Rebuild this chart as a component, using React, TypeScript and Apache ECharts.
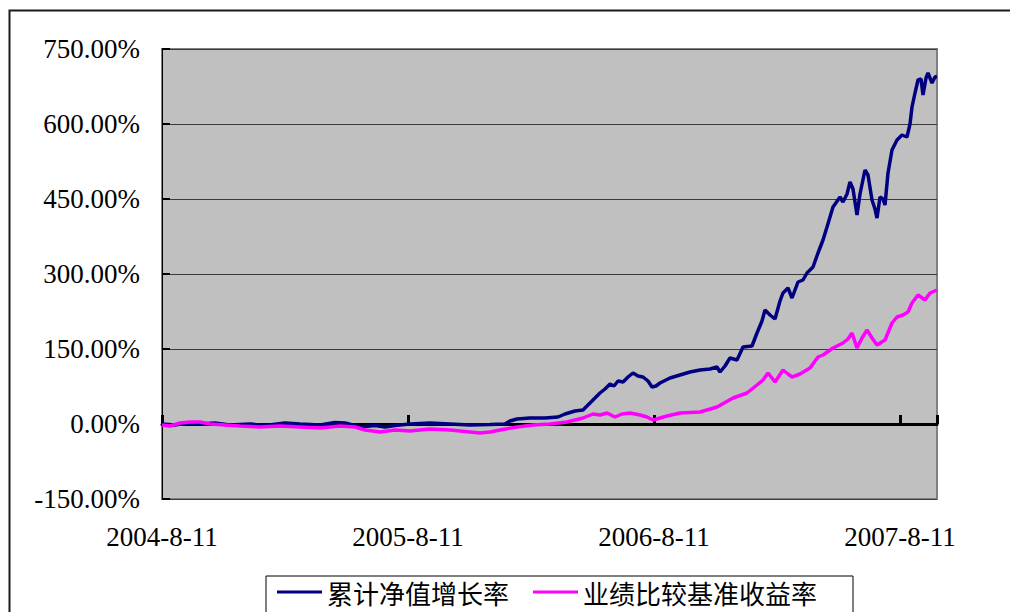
import React, { useEffect, useRef } from "react";
import * as echarts from "echarts";

const tickLabels = ["2004-8-11", "2005-8-11", "2006-8-11", "2007-8-11"];
const daysPerTick = 246;
const totalDays = 775;

const seriesNames = ["累计净值增长率", "业绩比较基准收益率"];

const navDays = [0, 13, 23, 38, 53, 68, 88, 103, 123, 138, 158, 173, 183, 198, 213, 223, 233, 248, 268, 288, 308, 328, 343, 348, 355, 368, 383, 396, 403, 413, 421, 428, 438, 443, 448, 452, 456, 461, 466, 471, 476, 481, 486, 490, 494, 498, 508, 518, 528, 538, 548, 555, 558, 563, 568, 575, 581, 590, 595, 600, 603, 608, 613, 618, 621, 626, 630, 636, 641, 645, 651, 656, 661, 665, 671, 678, 681, 685, 688, 691, 695, 698, 703, 706, 710, 713, 715, 718, 721, 723, 726, 730, 735, 740, 745, 748, 750, 753, 756, 759, 761, 764, 766, 770, 773, 775];
const navValues = [0, -2, 2, 0, 2, -2, 0, -3, 2, 0, -2, 3, 2, -6, -3, -6, -3, 0, 2, 0, -2, -1, 0, 6, 10, 12, 12, 14, 20, 26, 28, 42, 62, 70, 80, 76, 86, 84, 94, 102, 96, 94, 86, 74, 76, 82, 92, 98, 104, 108, 110, 114, 104, 116, 132, 128, 154, 156, 182, 206, 228, 218, 210, 246, 262, 272, 252, 284, 288, 302, 314, 342, 368, 394, 434, 454, 444, 460, 484, 470, 418, 460, 508, 498, 448, 430, 412, 454, 450, 438, 502, 548, 568, 578, 574, 600, 634, 662, 688, 690, 658, 692, 702, 682, 694, 695];

const benchDays = [0, 8, 18, 28, 38, 48, 63, 78, 98, 118, 138, 158, 178, 193, 203, 218, 233, 248, 268, 288, 308, 318, 328, 338, 355, 371, 388, 405, 421, 431, 438, 445, 453, 460, 468, 478, 485, 491, 498, 505, 518, 538, 555, 571, 585, 595, 601, 606, 610, 613, 621, 626, 630, 638, 648, 656, 661, 671, 681, 686, 690, 695, 700, 705, 710, 715, 723, 730, 735, 741, 746, 750, 756, 763, 768, 775];
const benchValues = [-2, -4, 2, 4, 4, 0, -2, -4, -6, -4, -6, -8, -4, -6, -12, -16, -12, -14, -10, -12, -16, -18, -16, -12, -6, -2, 0, 4, 12, 20, 18, 22, 14, 20, 22, 18, 14, 8, 12, 16, 22, 24, 34, 52, 62, 78, 88, 102, 92, 84, 108, 100, 94, 100, 112, 134, 138, 152, 162, 170, 182, 152, 172, 188, 172, 158, 168, 202, 214, 218, 224, 242, 258, 248, 262, 268];

const yTicks = { min: -150, max: 750, interval: 150 };

const serif = "'Liberation Serif', 'Times New Roman', serif";
const cjk = "'Noto Sans CJK SC', sans-serif";

export default function App() {
  const ref = useRef<HTMLDivElement>(null);
  useEffect(() => {
    if (!ref.current) return;
    const chart = echarts.init(ref.current, undefined, { renderer: "svg" });
    const navData = navDays.map((d, i) => [d, navValues[i]]);
    const benchData = benchDays.map((d, i) => [d, benchValues[i]]);
    chart.setOption({
      animation: false,
      backgroundColor: "#ffffff",
      graphic: [
        {
          type: "rect",
          shape: { x: 9.5, y: 10.5, width: 1100, height: 700 },
          style: { fill: "none", stroke: "#1a1a1a", lineWidth: 2 },
          silent: true,
        },
      ],
      grid: {
        left: 162,
        right: 73,
        top: 49,
        bottom: 113,
        show: true,
        backgroundColor: "#C0C0C0",
        borderColor: "#808080",
        borderWidth: 2,
      },
      legend: {
        data: seriesNames,
        left: 266,
        top: 576,
        icon: "rect",
        itemWidth: 45,
        itemHeight: 3,
        itemGap: 24,
        padding: [3, 36, 40, 11],
        borderColor: "#000000",
        borderWidth: 1,
        textStyle: { fontFamily: cjk, fontSize: 26, lineHeight: 26, color: "#000000" },
      },
      xAxis: [
        {
          type: "value",
          min: 0,
          max: totalDays,
          interval: daysPerTick,
          axisLine: { show: true, onZero: true, lineStyle: { color: "#000000", width: 3 } },
          axisTick: { show: true, inside: true, length: 9, lineStyle: { color: "#000000", width: 3 } },
          axisLabel: { show: false },
          splitLine: { show: false },
        },
        {
          type: "value",
          position: "bottom",
          min: 0,
          max: totalDays,
          interval: daysPerTick,
          axisLine: { show: false, onZero: false },
          axisTick: { show: false },
          splitLine: { show: false },
          axisLabel: {
            show: true,
            margin: 24,
            fontFamily: serif,
            fontSize: 27,
            color: "#000000",
            showMaxLabel: false,
            formatter: (v: number) => {
              const i = Math.round(v / daysPerTick);
              return tickLabels[i] ?? "";
            },
          },
        },
      ],
      yAxis: {
        type: "value",
        min: yTicks.min,
        max: yTicks.max,
        interval: yTicks.interval,
        axisLine: { show: true, lineStyle: { color: "#000000", width: 1 } },
        axisTick: { show: true, inside: true, length: 8, lineStyle: { color: "#000000", width: 2 } },
        splitLine: { show: true, lineStyle: { color: "#3a3a3a", width: 1 } },
        axisLabel: {
          margin: 22,
          fontFamily: serif,
          fontSize: 27,
          color: "#000000",
          formatter: (v: number) => v.toFixed(2) + "%",
        },
      },
      series: [
        {
          name: seriesNames[0],
          type: "line",
          xAxisIndex: 0,
          data: navData,
          showSymbol: false,
          symbol: "none",
          lineStyle: { color: "#000080", width: 3.5 },
          itemStyle: { color: "#000080" },
        },
        {
          name: seriesNames[1],
          type: "line",
          xAxisIndex: 0,
          data: benchData,
          showSymbol: false,
          symbol: "none",
          lineStyle: { color: "#FF00FF", width: 3.5 },
          itemStyle: { color: "#FF00FF" },
        },
      ],
    });
    return () => chart.dispose();
  }, []);
  return (
    <div
      ref={ref}
      style={{ position: "fixed", left: 0, top: 0, width: 1010, height: 612 }}
    />
  );
}
